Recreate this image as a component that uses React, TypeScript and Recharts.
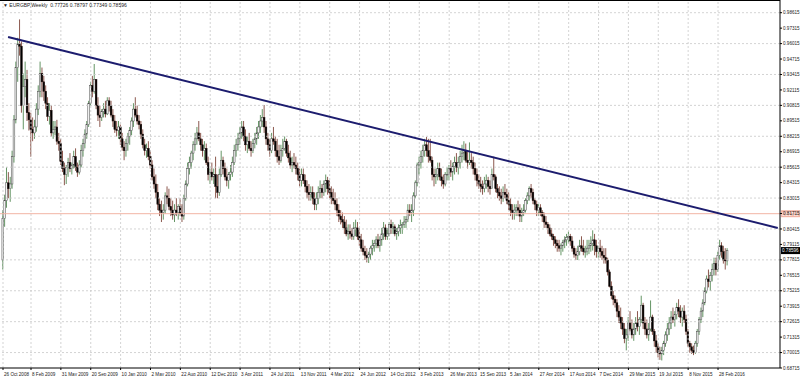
import { Bar, ComposedChart, ReferenceLine, XAxis, YAxis } from "recharts";

// weekly candles: [close, high, low] in 1/10000, open = previous close
const firstOpen = 7780;

const y2008 = [
  [8130, 8200, 7700], [8280, 8330, 8060], [8430, 8560, 8220], [8380, 8520, 8300], [8420, 8480, 8270],
  [8650, 8700, 8380], [8960, 9000, 8600], [9400, 9450, 8930], [9600, 9650, 9280], [9580, 9805, 9500],
];

const y2009 = [
  [9080, 9620, 9020], [9240, 9350, 8880], [9300, 9450, 9150], [9020, 9380, 8950], [8960, 9100, 8870],
  [8880, 9020, 8650], [8850, 8980, 8780], [8900, 8960, 8800], [9050, 9100, 8860], [9200, 9250, 9000],
  [9350, 9450, 9150], [9280, 9400, 9150], [9200, 9330, 9120], [9100, 9250, 9050], [8990, 9150, 8950],
  [9040, 9100, 8920], [8850, 9080, 8820], [8880, 8950, 8800], [8900, 8950, 8830], [8780, 8960, 8750],
  [8760, 8850, 8700], [8610, 8800, 8580], [8550, 8700, 8520], [8500, 8600, 8410], [8560, 8580, 8420],
  [8600, 8640, 8480], [8550, 8680, 8520], [8580, 8600, 8500], [8650, 8700, 8550], [8560, 8720, 8530],
  [8520, 8600, 8480], [8580, 8620, 8500], [8700, 8750, 8560], [8760, 8800, 8650], [8840, 8880, 8720],
  [8920, 8950, 8800], [9100, 9120, 8900], [9250, 9280, 9080], [9200, 9330, 9150], [9300, 9430, 9180],
  [9080, 9300, 9050], [9000, 9150, 8950], [8980, 9080, 8900], [9030, 9050, 8950], [9050, 9100, 8980],
  [9010, 9120, 8980], [9120, 9150, 9000], [9080, 9150, 9030], [9000, 9120, 8980], [8950, 9050, 8900],
  [8880, 9000, 8850], [8870, 8950, 8820],
];

const y2010 = [
  [8900, 8950, 8800], [8800, 8920, 8750], [8730, 8850, 8700], [8700, 8780, 8620], [8760, 8800, 8650],
  [8820, 8850, 8700], [8870, 8900, 8750], [8950, 8980, 8830], [9050, 9100, 8900], [9000, 9150, 8980],
  [8950, 9080, 8920], [8920, 9000, 8880], [8840, 8950, 8800], [8750, 8880, 8720], [8700, 8800, 8660],
  [8720, 8760, 8640], [8650, 8780, 8620], [8580, 8700, 8550], [8480, 8620, 8450], [8420, 8550, 8380],
  [8350, 8500, 8300], [8250, 8420, 8200], [8200, 8300, 8150], [8180, 8280, 8100], [8200, 8250, 8120],
  [8320, 8350, 8170], [8300, 8400, 8250], [8230, 8380, 8200], [8200, 8300, 8150], [8160, 8280, 8120],
  [8200, 8250, 8100], [8180, 8300, 8150], [8230, 8250, 8120], [8170, 8300, 8150], [8150, 8250, 8100],
  [8300, 8330, 8120], [8420, 8450, 8280], [8550, 8600, 8400], [8600, 8650, 8500], [8680, 8700, 8550],
  [8750, 8780, 8620], [8800, 8850, 8700], [8850, 8900, 8750], [8800, 8950, 8780], [8750, 8850, 8700],
  [8700, 8800, 8650], [8720, 8780, 8620], [8600, 8760, 8580], [8500, 8650, 8450], [8520, 8550, 8420],
  [8480, 8600, 8450], [8500, 8550, 8420],
];

const y2011 = [
  [8400, 8650, 8300], [8350, 8500, 8300], [8500, 8550, 8320], [8620, 8700, 8480], [8550, 8650, 8500],
  [8480, 8600, 8450], [8450, 8550, 8400], [8500, 8520, 8380], [8520, 8580, 8450], [8600, 8650, 8480],
  [8700, 8750, 8580], [8750, 8800, 8650], [8800, 8850, 8700], [8850, 8900, 8750], [8900, 8950, 8800],
  [8820, 8950, 8780], [8750, 8880, 8700], [8780, 8820, 8680], [8720, 8850, 8700], [8700, 8780, 8650],
  [8760, 8800, 8680], [8800, 8850, 8720], [8850, 8900, 8750], [8900, 8950, 8800], [8950, 9000, 8850],
  [8980, 9050, 8900], [8900, 9085, 8850], [8800, 8950, 8750], [8750, 8850, 8700], [8700, 8800, 8650],
  [8800, 8850, 8680], [8780, 8900, 8750], [8700, 8820, 8650], [8650, 8800, 8600], [8620, 8750, 8580],
  [8700, 8750, 8600], [8720, 8800, 8650], [8780, 8820, 8700], [8680, 8800, 8650], [8640, 8750, 8600],
  [8580, 8700, 8550], [8600, 8650, 8520], [8580, 8680, 8550], [8550, 8650, 8500], [8500, 8600, 8450],
  [8450, 8550, 8400], [8500, 8550, 8400], [8450, 8550, 8420], [8400, 8500, 8350], [8350, 8450, 8300],
  [8330, 8420, 8280], [8350, 8400, 8280],
];

const y2012 = [
  [8300, 8400, 8250], [8250, 8350, 8200], [8300, 8350, 8200], [8350, 8400, 8250], [8380, 8450, 8300],
  [8350, 8420, 8300], [8420, 8450, 8320], [8450, 8500, 8350], [8380, 8480, 8330], [8350, 8450, 8300],
  [8300, 8400, 8250], [8280, 8380, 8250], [8250, 8350, 8200], [8200, 8300, 8150], [8150, 8250, 8100],
  [8120, 8200, 8080], [8100, 8180, 8050], [8050, 8150, 8000], [8000, 8120, 7980], [8020, 8080, 7950],
  [8000, 8080, 7960], [7980, 8050, 7950], [8050, 8100, 7950], [8050, 8120, 7980], [7980, 8100, 7950],
  [7950, 8050, 7900], [7880, 8000, 7850], [7850, 7950, 7820], [7820, 7900, 7780], [7800, 7880, 7760],
  [7830, 7850, 7755], [7880, 7900, 7780], [7900, 7950, 7820], [7920, 7950, 7850], [7950, 7980, 7880],
  [7900, 8000, 7880], [7950, 7980, 7850], [8000, 8050, 7900], [8050, 8100, 7950], [7980, 8080, 7950],
  [8000, 8050, 7950], [8080, 8100, 7980], [8050, 8120, 8000], [8060, 8100, 8000], [8000, 8080, 7980],
  [8020, 8050, 7950], [8050, 8080, 7980], [8070, 8120, 8000], [8080, 8100, 8000], [8100, 8150, 8050],
  [8120, 8150, 8050], [8200, 8250, 8100], [8180, 8250, 8150],
];

const y2013 = [
  [8200, 8250, 8100], [8320, 8350, 8150], [8430, 8450, 8300], [8580, 8600, 8400], [8600, 8650, 8500],
  [8650, 8700, 8550], [8700, 8750, 8600], [8750, 8800, 8650], [8700, 8815, 8650], [8650, 8800, 8600],
  [8620, 8800, 8600], [8500, 8650, 8450], [8480, 8550, 8400], [8500, 8550, 8420], [8550, 8600, 8450],
  [8480, 8600, 8450], [8450, 8550, 8400], [8420, 8500, 8380], [8500, 8520, 8400], [8500, 8560, 8450],
  [8550, 8580, 8450], [8520, 8620, 8480], [8570, 8600, 8450], [8600, 8650, 8500], [8560, 8680, 8520],
  [8600, 8650, 8500], [8650, 8700, 8550], [8680, 8750, 8600], [8700, 8780, 8620], [8620, 8760, 8600],
  [8600, 8700, 8550], [8620, 8770, 8580], [8600, 8680, 8550], [8550, 8650, 8500], [8500, 8600, 8450],
  [8450, 8550, 8400], [8420, 8500, 8380], [8400, 8480, 8350], [8380, 8450, 8330], [8420, 8480, 8350],
  [8450, 8500, 8380], [8400, 8480, 8350], [8380, 8450, 8330], [8500, 8550, 8380], [8480, 8650, 8450],
  [8380, 8500, 8350], [8350, 8420, 8300], [8320, 8400, 8280], [8300, 8380, 8250], [8350, 8400, 8270],
  [8330, 8420, 8300], [8280, 8380, 8250],
];

const y2014 = [
  [8250, 8350, 8200], [8200, 8300, 8150], [8180, 8250, 8120], [8200, 8250, 8120], [8220, 8250, 8150],
  [8200, 8280, 8150], [8150, 8250, 8100], [8180, 8220, 8100], [8200, 8250, 8150], [8280, 8300, 8180],
  [8320, 8350, 8250], [8380, 8400, 8280], [8350, 8420, 8300], [8280, 8380, 8250], [8250, 8300, 8200],
  [8200, 8280, 8150], [8220, 8250, 8150], [8180, 8250, 8150], [8150, 8200, 8100], [8100, 8180, 8050],
  [8080, 8150, 8050], [8050, 8100, 8000], [8000, 8080, 7980], [7980, 8050, 7950], [7950, 8000, 7900],
  [7920, 7980, 7880], [7900, 7950, 7850], [7880, 7950, 7850], [7900, 7920, 7820], [7930, 7950, 7850],
  [7950, 7980, 7880], [7970, 8000, 7900], [7980, 8020, 7920], [7940, 8000, 7900], [7880, 7980, 7850],
  [7830, 7900, 7800], [7820, 7880, 7780], [7850, 7900, 7780], [7900, 7950, 7820], [7880, 7980, 7850],
  [7850, 7950, 7820], [7850, 7900, 7800], [7880, 7950, 7820], [7900, 7950, 7830], [7920, 7980, 7850],
  [7950, 8030, 7860], [7900, 8000, 7820], [7850, 7950, 7800], [7880, 7900, 7800], [7850, 7950, 7800],
  [7820, 7900, 7780], [7800, 7880, 7750],
];

const y2015 = [
  [7780, 7880, 7750], [7680, 7800, 7650], [7560, 7700, 7550], [7480, 7600, 7450], [7450, 7520, 7400],
  [7420, 7480, 7380], [7350, 7450, 7300], [7300, 7400, 7250], [7250, 7380, 7200], [7200, 7300, 7150],
  [7120, 7250, 7080], [7150, 7200, 7020], [7250, 7300, 7100], [7200, 7350, 7180], [7150, 7280, 7120],
  [7200, 7250, 7100], [7250, 7300, 7150], [7220, 7350, 7180], [7280, 7300, 7150], [7400, 7480, 7250],
  [7250, 7420, 7200], [7200, 7300, 7150], [7150, 7280, 7120], [7200, 7250, 7100], [7300, 7440, 7180],
  [7180, 7320, 7150], [7100, 7200, 7050], [7050, 7150, 7000], [7000, 7080, 6960], [6990, 7050, 6940],
  [7020, 7050, 6935], [7080, 7100, 6980], [7150, 7180, 7050], [7200, 7250, 7100], [7250, 7300, 7150],
  [7300, 7350, 7200], [7280, 7380, 7250], [7320, 7350, 7220], [7380, 7420, 7280], [7350, 7450, 7300],
  [7300, 7400, 7250], [7350, 7380, 7220], [7280, 7400, 7250], [7180, 7320, 7150], [7080, 7200, 7050],
  [7050, 7100, 7000], [7020, 7080, 6990], [7000, 7060, 6980], [7080, 7100, 6990], [7180, 7200, 7050],
  [7280, 7300, 7150], [7350, 7380, 7250],
];

const y2016 = [
  [7420, 7450, 7300], [7520, 7550, 7400], [7620, 7650, 7500], [7600, 7700, 7550], [7650, 7680, 7520],
  [7700, 7750, 7600], [7750, 7800, 7650], [7700, 7800, 7650], [7820, 7850, 7680], [7900, 7950, 7780],
  [7850, 7930, 7800], [7780, 7900, 7750], [7773, 7880, 7700], [7860, 7880, 7735],
];

const weeks = [...y2008, ...y2009, ...y2010, ...y2011, ...y2012, ...y2013, ...y2014, ...y2015, ...y2016];

// x axis labels (week index from 26 Oct 2008)
const dateTicks = [0, 15, 31, 47, 63, 79, 95, 111, 127, 143, 159, 175, 191, 207, 223, 239, 255, 271, 287, 303, 319, 335, 351, 367, 383];
const dateLabels = [
  "26 Oct 2008", "8 Feb 2009", "31 May 2009", "20 Sep 2009", "10 Jan 2010", "2 May 2010", "22 Aug 2010",
  "12 Dec 2010", "3 Apr 2011", "24 Jul 2011", "13 Nov 2011", "4 Mar 2012", "24 Jun 2012", "14 Oct 2012",
  "3 Feb 2013", "26 May 2013", "15 Sep 2013", "5 Jan 2014", "27 Apr 2014", "17 Aug 2014", "7 Dec 2014",
  "29 Mar 2015", "19 Jul 2015", "8 Nov 2015", "28 Feb 2016",
];

const priceTicks = [
  0.98615, 0.97315, 0.96015, 0.94715, 0.93415, 0.92115, 0.90815, 0.89515, 0.88215, 0.86915, 0.85615, 0.84315,
  0.83015, 0.81715, 0.80415, 0.79115, 0.77815, 0.76515, 0.75215, 0.73915, 0.72615, 0.71315, 0.70015, 0.68715,
];
const gridPrices = priceTicks.filter((_, i) => i % 2 === 0);

const levelPrice = 0.817;
const lastPrice = 0.78596;
const trendLine = [
  { x: 2.7, y: 0.9657 },
  { x: 415, y: 0.805 },
];

const data = weeks.map(([c, h, l], i) => {
  const o = i === 0 ? firstOpen : weeks[i - 1][0];
  const hi = Math.max(h, o, c);
  const lo = Math.min(l, o, c);
  return { i, open: o / 1e4, close: c / 1e4, high: hi / 1e4, low: lo / 1e4, range: [lo / 1e4, hi / 1e4] };
});

const UP = "#3d7a3d";
const DOWN = "#6e2e22";

function Candle(props: any) {
  const { x, y, width, height, payload } = props;
  if (!payload) return null;
  const { open, close, high, low } = payload;
  const top = Math.min(y, y + height);
  const h = Math.abs(height);
  const cx = x + width / 2;
  const k = high > low ? h / (high - low) : 0;
  const bTop = top + (high - Math.max(open, close)) * k;
  const bBot = top + (high - Math.min(open, close)) * k;
  const bull = close >= open;
  return (
    <g>
      <line x1={cx} x2={cx} y1={top} y2={top + h} stroke={bull ? UP : DOWN} strokeWidth={0.8} />
      <rect
        x={cx - 0.85}
        y={bTop}
        width={1.7}
        height={Math.max(bBot - bTop, 0.6)}
        fill={bull ? "#f4f4f4" : "#000000"}
        stroke={bull ? "#4a4a4a" : "#1a0a08"}
        strokeWidth={0.5}
      />
    </g>
  );
}

function DateTick(props: any) {
  const { x, y, payload } = props;
  const idx = dateTicks.indexOf(payload.value);
  return (
    <text x={x + 1} y={y + 4} fontSize={4.6} fill="#222" textAnchor="start" fontFamily="Liberation Sans">
      {dateLabels[idx]}
    </text>
  );
}

function PriceBox(fill: string, color: string, text: string) {
  return (props: any) => {
    const { viewBox } = props;
    if (!viewBox) return null;
    const px = viewBox.x + viewBox.width;
    return (
      <g>
        <rect x={px + 1} y={viewBox.y - 3.5} width={19} height={7} fill={fill} />
        <text x={px + 2} y={viewBox.y + 1.8} fontSize={4.6} fill={color} fontFamily="Liberation Sans">
          {text}
        </text>
      </g>
    );
  };
}

export default function App() {
  return (
    <div style={{ position: "absolute", left: 0, top: 0, width: 800, height: 376, background: "#fff" }}>
      <ComposedChart width={800} height={376} data={data} margin={{ top: 0, right: 0, bottom: 0, left: 0 }}>
        <XAxis
          type="number"
          dataKey="i"
          domain={[-1.607, 416.2]}
          allowDataOverflow
          ticks={dateTicks}
          tick={<DateTick />}
          height={8}
          axisLine={{ stroke: "#000" }}
          tickLine={{ stroke: "#000" }}
          tickSize={2}
          interval={0}
        />
        <YAxis
          orientation="right"
          domain={[0.68715, 0.99684]}
          allowDataOverflow
          ticks={priceTicks}
          interval={0}
          width={20}
          tickFormatter={(v: number) => v.toFixed(5)}
          tick={{ fontSize: 4.6, fill: "#222", fontFamily: "Liberation Sans" }}
          tickSize={2}
          tickMargin={1}
          axisLine={{ stroke: "#000" }}
          tickLine={{ stroke: "#000" }}
        />
        {gridPrices.map((p) => (
          <ReferenceLine key={"gy" + p} y={p} stroke="#c8c8c8" strokeDasharray="2 2" strokeWidth={0.8} />
        ))}
        {dateTicks.map((t) => (
          <ReferenceLine key={"gx" + t} x={t} stroke="#c8c8c8" strokeDasharray="2 2" strokeWidth={0.8} />
        ))}
        <ReferenceLine y={levelPrice} stroke="#f2b4a4" strokeWidth={1} label={PriceBox("#f2b4a4", "#fff", "0.81700")} />
        <Bar dataKey="range" shape={<Candle />} isAnimationActive={false} />
        <ReferenceLine segment={trendLine} stroke="#1c1c6e" strokeWidth={2} ifOverflow="visible" />
        <ReferenceLine y={lastPrice} stroke="none" label={PriceBox("#000", "#fff", lastPrice.toFixed(5))} />
      </ComposedChart>
      <div style={{ position: "absolute", left: 0, top: 0, width: 780, height: 1, background: "#000" }} />
      <div
        style={{
          position: "absolute",
          left: 3,
          top: 2,
          fontSize: 5,
          fontFamily: "Liberation Sans",
          color: "#222",
          whiteSpace: "nowrap",
        }}
      >
        ▼ EURGBP,Weekly&nbsp; 0.77726 0.78797 0.77349 0.78596
      </div>
    </div>
  );
}
